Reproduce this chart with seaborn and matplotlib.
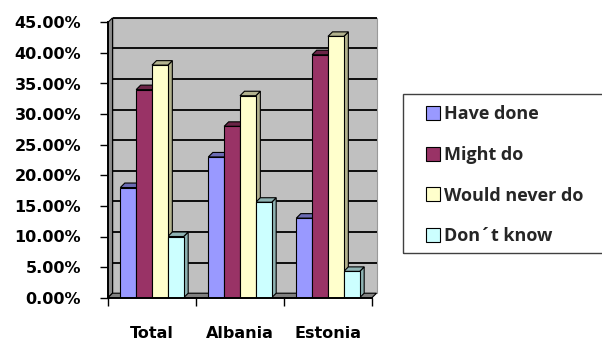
import matplotlib
matplotlib.use("Agg")
import matplotlib.pyplot as plt
from matplotlib.patches import Polygon, Rectangle
from matplotlib.transforms import IdentityTransform, ScaledTranslation
from matplotlib.ticker import FuncFormatter
from matplotlib.font_manager import FontProperties
from matplotlib.colors import to_rgb
import seaborn as sns
import pandas as pd

# Survey answers per country (percent of respondents)
countries = ["Total", "Albania", "Estonia"]
responses = ["Have done", "Might do", "Would never do", "Don´t know"]
have_done = [18.0, 23.0, 13.0]
might_do = [34.0, 28.0, 39.7]
would_never_do = [38.0, 33.0, 42.7]
dont_know = [10.0, 15.6, 4.3]
y_ticks = [0, 5, 10, 15, 20, 25, 30, 35, 40, 45]

palette = ["#9999FF", "#993366", "#FFFFCC", "#CCFFFF"]

rows = []
for resp, vals in zip(responses, [have_done, might_do, would_never_do, dont_know]):
    for c, v in zip(countries, vals):
        rows.append({"country": c, "response": resp, "value": v})
df = pd.DataFrame(rows)

sns.set_theme(style="white")
plt.rcParams["font.family"] = ["DejaVu Sans"]

W, H = 602, 341
fig = plt.figure(figsize=(W / 100, H / 100), dpi=100)
ax = fig.add_axes([108 / W, (H - 297.7) / H, (372 - 108) / W, (297.7 - 22.3) / H])

sns.barplot(data=df, x="country", y="value", hue="response",
            order=countries, hue_order=responses, palette=palette,
            saturation=1, width=0.72, errorbar=None, edgecolor="black",
            linewidth=0.8, zorder=3, ax=ax)

ax.set_xlim(-0.5, 2.5)
ax.set_ylim(0, 45)
ax.patch.set_visible(False)
ax.set_xlabel("")
ax.set_ylabel("")

# 3D depth offset in pixels
d = 4.5
ident = IdentityTransform()
(x0, y0) = ax.transAxes.transform((0, 0))
(x1, y1) = ax.transAxes.transform((1, 1))

# back wall, side wall and floor
ax.add_patch(Polygon([(x0 + d, y0 + d), (x1 + d, y0 + d), (x1 + d, y1 + d), (x0 + d, y1 + d)],
                     closed=True, transform=ident, clip_on=False, facecolor="#C0C0C0",
                     edgecolor="#9a9a9a", lw=0.8, zorder=0.5))
ax.add_patch(Polygon([(x0, y0), (x0, y1), (x0 + d, y1 + d), (x0 + d, y0 + d)],
                     closed=True, transform=ident, clip_on=False, facecolor="#8c8c8c",
                     edgecolor="black", lw=0.8, zorder=0.6))
ax.add_patch(Polygon([(x0, y0), (x1, y0), (x1 + d, y0 + d), (x0 + d, y0 + d)],
                     closed=True, transform=ident, clip_on=False, facecolor="#808080",
                     edgecolor="black", lw=0.8, zorder=1.2))

# gridlines on the back wall
grid_tr = ax.transData + ScaledTranslation(d / 100, d / 100, fig.dpi_scale_trans)
ax.hlines(y_ticks[1:], -0.5, 2.5, colors="black", lw=1.3, transform=grid_tr,
          clip_on=False, zorder=1)

# top and side faces of each column
for container in ax.containers:
    for bar in container:
        bx, by = bar.get_x(), bar.get_y()
        bw, bh = bar.get_width(), bar.get_height()
        (px0, py0) = ax.transData.transform((bx, by))
        (px1, py1) = ax.transData.transform((bx + bw, by + bh))
        base = to_rgb(bar.get_facecolor())
        dark = tuple(c * 0.7 for c in base)
        ax.add_patch(Polygon([(px1, py0), (px1, py1), (px1 + d, py1 + d), (px1 + d, py0 + d)],
                             closed=True, transform=ident, clip_on=False, facecolor=dark,
                             edgecolor="black", lw=0.8, zorder=2))
        ax.add_patch(Polygon([(px0, py1), (px1, py1), (px1 + d, py1 + d), (px0 + d, py1 + d)],
                             closed=True, transform=ident, clip_on=False, facecolor=dark,
                             edgecolor="black", lw=0.8, zorder=2.5))

for s in ["top", "right"]:
    ax.spines[s].set_visible(False)
for s in ["left", "bottom"]:
    ax.spines[s].set_color("black")
    ax.spines[s].set_linewidth(1.4)
    ax.spines[s].set_zorder(4)

ax.set_yticks(y_ticks)
ax.yaxis.set_major_formatter(FuncFormatter(lambda v, _: f"{v:.2f}%"))
ax.tick_params(axis="y", length=5.8, width=1, pad=13.6, labelsize=11.5, colors="black", left=True)
ax.set_xticks([-0.5, 0.5, 1.5, 2.5], minor=True)
ax.tick_params(axis="x", which="minor", length=5.8, width=1, bottom=True, color="black")
ax.tick_params(axis="x", which="major", length=0, pad=20.5, labelsize=11.5, labelcolor="black")
for lab in ax.get_yticklabels() + ax.get_xticklabels():
    lab.set_fontweight("bold")

handles, labels = ax.get_legend_handles_labels()
ax.legend_.remove()
fig.legend(handles, labels, loc="upper left", bbox_to_anchor=(426 / W, 1 - 105.5 / H),
           frameon=False, prop=FontProperties(family="Open Sans", weight="bold", size=13),
           handlelength=0.8, handleheight=0.8, handletextpad=0.2, labelspacing=1.25,
           borderpad=0, borderaxespad=0)
fig.add_artist(Rectangle((403 / W, 1 - 253 / H), (606 - 403) / W, (253 - 94) / H,
                         transform=fig.transFigure, fill=False, edgecolor="#404040", lw=1))

fig.savefig("out.png", dpi=100)
